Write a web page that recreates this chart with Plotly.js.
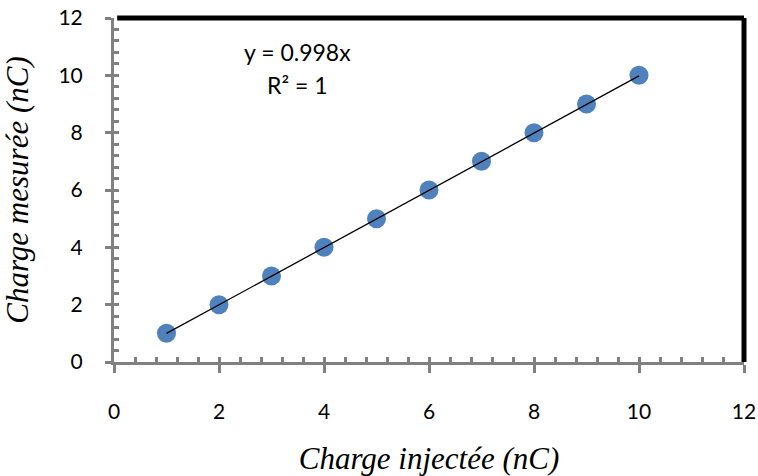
<!DOCTYPE html>
<html>
<head>
<meta charset="utf-8">
<script src="https://cdn.plot.ly/plotly-3.0.1.min.js"></script>
<style>html,body{margin:0;padding:0;background:#fff;}#chart{width:758px;height:476px;}</style>
</head>
<body>
<div id="chart"></div>
<script>
const injected = [1, 2, 3, 4, 5, 6, 7, 8, 9, 10];
const measured = [1, 2, 3, 4, 5, 6, 7, 8, 9, 10];
const slope = 0.998;
const trendX = [1, 10];
const trendY = trendX.map(v => slope * v);
const tickVals = [0, 2, 4, 6, 8, 10, 12];
const eqText = ["y = 0.998x", "R² = 1"];
const xTitle = "Charge injectée (nC)";
const yTitle = "Charge mesurée (nC)";

const axisGray = "#808080";
const sansFamily = "Lato, 'Open Sans', sans-serif";
const tickFont = {family: sansFamily, size: 21, color: "#000"};
const titleFont = {family: "'Liberation Serif', 'DejaVu Serif', serif", size: 31, color: "#000", style: "italic"};

const traces = [
  {x: injected, y: measured, type: "scatter", mode: "markers",
   marker: {color: "#4f81bd", size: 19, line: {width: 0}}, hoverinfo: "none", showlegend: false},
  {x: trendX, y: trendY, type: "scatter", mode: "lines",
   line: {color: "#000", width: 1.3}, hoverinfo: "none", showlegend: false}
];

const layout = {
  width: 758, height: 476,
  margin: {l: 114, r: 14, t: 17.5, b: 114},
  paper_bgcolor: "#fff", plot_bgcolor: "#fff",
  showlegend: false,
  xaxis: {
    range: [0, 12], tickvals: tickVals, ticks: "outside", ticklen: 8, tickwidth: 3, tickcolor: axisGray,
    showline: true, linecolor: axisGray, linewidth: 3, showgrid: false, zeroline: false,
    tickfont: tickFont, ticklabelstandoff: 21,
    title: {text: xTitle, font: titleFont, standoff: 26}
  },
  yaxis: {
    range: [0, 12], tickvals: tickVals, ticks: "outside", ticklen: 6, tickwidth: 3, tickcolor: axisGray,
    showline: true, linecolor: axisGray, linewidth: 3, showgrid: false, zeroline: false,
    tickfont: tickFont, ticklabelstandoff: 18,
    title: {text: yTitle, font: titleFont, standoff: 24}
  },
  xaxis2: {
    overlaying: "x", range: [0, 12], dtick: 0.4, tick0: 0, ticks: "inside", ticklen: 5, tickwidth: 3,
    tickcolor: axisGray, showticklabels: false, showgrid: false, zeroline: false, showline: false
  },
  yaxis2: {
    overlaying: "y", range: [0, 12], dtick: 0.4, tick0: 0, ticks: "inside", ticklen: 5, tickwidth: 3,
    tickcolor: axisGray, showticklabels: false, showgrid: false, zeroline: false, showline: false
  },
  shapes: [
    {type: "line", xref: "paper", yref: "paper", x0: 0.005, x1: 1, y0: 1, y1: 1, line: {color: "#000", width: 5}},
    {type: "line", xref: "paper", yref: "paper", x0: 1, x1: 1, y0: 0, y1: 1, line: {color: "#000", width: 5}}
  ],
  annotations: [
    {xref: "paper", yref: "paper", x: (297 - 114) / 630, y: (362 - 52) / 344.5, text: eqText[0], showarrow: false,
     xanchor: "center", yanchor: "middle", font: {family: sansFamily, size: 23, color: "#000"}},
    {xref: "paper", yref: "paper", x: (297 - 114) / 630, y: (362 - 85) / 344.5, text: eqText[1], showarrow: false,
     xanchor: "center", yanchor: "middle", font: {family: sansFamily, size: 23, color: "#000"}}
  ]
};

traces.unshift({x: [0], y: [0], xaxis: "x2", yaxis: "y2", type: "scatter", mode: "markers",
  marker: {opacity: 0}, hoverinfo: "none", showlegend: false});

Plotly.newPlot("chart", traces, layout, {displayModeBar: false, staticPlot: true});
</script>
</body>
</html>
